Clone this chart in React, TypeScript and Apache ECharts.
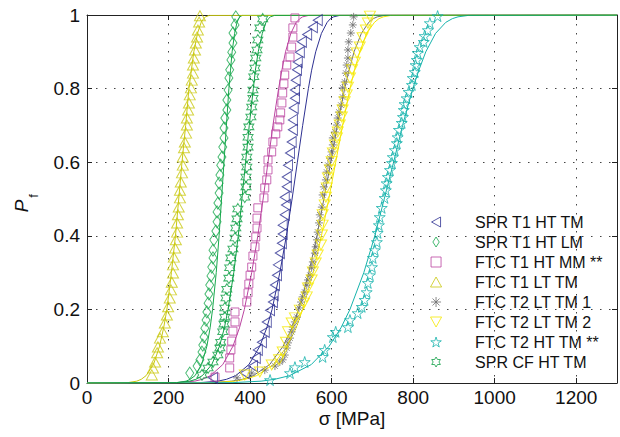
import React, { useEffect, useRef } from 'react';
import * as echarts from 'echarts';

const FONT = '"Liberation Sans", Arial, Helvetica, sans-serif';

const seriesNames = [
  'SPR T1 HT TM',
  'SPR T1 HT LM',
  'FTC T1 HT MM **',
  'FTC T1 LT TM',
  'FTC T2 LT TM 1',
  'FTC T2 LT TM 2',
  'FTC T2 HT TM **',
  'SPR CF HT TM',
];

const seriesColors = ['#2e3192', '#17a84c', '#bb44a0', '#c9c810', '#6e6e6e', '#f5e800', '#16b3ac', '#10a046'];

// measured points: [sigma (MPa), Pf]
const sprT1HtTm = [
  [309, 0.014], [387, 0.027], [407, 0.046], [414, 0.068], [419, 0.09], [429, 0.111], [436, 0.139], [441, 0.166],
  [449, 0.198], [456, 0.22], [458, 0.239], [461, 0.266], [466, 0.293], [468, 0.321], [473, 0.353], [478, 0.38],
  [480, 0.405], [480, 0.429], [485, 0.457], [488, 0.484], [485, 0.505], [490, 0.533], [490, 0.56], [493, 0.592],
  [498, 0.625], [502, 0.655], [505, 0.688], [505, 0.715], [507, 0.747], [510, 0.774], [510, 0.796], [512, 0.823],
  [515, 0.851], [517, 0.872], [522, 0.899], [527, 0.927], [540, 0.947], [554, 0.967], [566, 0.986],
];

const sprT1HtLm = [
  [252, 0.027], [270, 0.046], [277, 0.063], [282, 0.084], [284, 0.103], [287, 0.125], [289, 0.149], [292, 0.171],
  [294, 0.193], [297, 0.217], [299, 0.242], [301, 0.266], [304, 0.291], [306, 0.315], [309, 0.34], [309, 0.361],
  [311, 0.389], [316, 0.413], [319, 0.438], [319, 0.465], [321, 0.489], [324, 0.516], [324, 0.543], [326, 0.565],
  [328, 0.592], [331, 0.614], [333, 0.641], [336, 0.666], [336, 0.693], [338, 0.72], [343, 0.742], [343, 0.769],
  [346, 0.796], [348, 0.829], [350, 0.851], [353, 0.878], [355, 0.899], [358, 0.924], [358, 0.951], [363, 0.973],
  [365, 0.995],
];

const ftcT1HtMm = [
  [314, 0.016], [350, 0.041], [350, 0.068], [353, 0.09], [355, 0.114], [358, 0.141], [363, 0.166], [363, 0.193],
  [392, 0.22], [395, 0.245], [397, 0.269], [400, 0.293], [404, 0.315], [407, 0.345], [412, 0.37], [414, 0.397],
  [417, 0.421], [417, 0.448], [419, 0.476], [434, 0.503], [436, 0.53], [441, 0.552], [444, 0.579], [444, 0.606],
  [453, 0.628], [456, 0.655], [463, 0.677], [468, 0.696], [473, 0.715], [475, 0.734], [478, 0.761], [480, 0.788],
  [483, 0.813], [485, 0.837], [490, 0.864], [498, 0.886], [502, 0.913], [505, 0.94], [505, 0.965], [510, 0.992],
];

const ftcT1LtTm = [
  [159, 0.022], [162, 0.041], [167, 0.057], [172, 0.082], [174, 0.098], [179, 0.122], [186, 0.139], [191, 0.163],
  [196, 0.185], [199, 0.207], [203, 0.231], [206, 0.253], [208, 0.274], [211, 0.299], [211, 0.321], [213, 0.342],
  [216, 0.367], [218, 0.389], [221, 0.41], [221, 0.435], [223, 0.457], [225, 0.478], [228, 0.503], [228, 0.524],
  [230, 0.546], [233, 0.571], [235, 0.592], [235, 0.614], [238, 0.639], [240, 0.655], [243, 0.679], [245, 0.701],
  [245, 0.72], [248, 0.742], [250, 0.761], [252, 0.783], [255, 0.802], [257, 0.823], [260, 0.842], [260, 0.864],
  [262, 0.883], [265, 0.905], [267, 0.924], [270, 0.94], [272, 0.959], [275, 0.981], [277, 0.998],
];

const ftcT2LtTm1 = [
  [368, 0.014], [404, 0.027], [436, 0.035], [461, 0.046], [473, 0.057], [480, 0.063], [485, 0.076], [490, 0.095],
  [493, 0.109], [498, 0.122], [502, 0.139], [505, 0.152], [510, 0.166], [515, 0.179], [520, 0.204], [525, 0.22],
  [529, 0.234], [534, 0.247], [539, 0.266], [542, 0.28], [547, 0.293], [551, 0.313], [554, 0.329], [559, 0.353],
  [561, 0.37], [564, 0.389], [566, 0.41], [569, 0.435], [571, 0.457], [576, 0.478], [578, 0.511], [581, 0.533],
  [586, 0.552], [588, 0.573], [591, 0.592], [596, 0.611], [600, 0.628], [603, 0.647], [603, 0.666], [608, 0.682],
  [613, 0.701], [615, 0.72], [618, 0.736], [623, 0.755], [627, 0.777], [627, 0.802], [632, 0.818], [635, 0.842],
  [637, 0.864], [640, 0.883], [640, 0.905], [642, 0.927], [647, 0.951], [652, 0.973], [654, 0.995],
];

const ftcT2LtTm2 = [
  [387, 0.022], [424, 0.03], [453, 0.049], [471, 0.063], [480, 0.084], [488, 0.111], [493, 0.139], [502, 0.163],
  [510, 0.177], [522, 0.198], [532, 0.217], [539, 0.234], [542, 0.258], [551, 0.28], [554, 0.302], [561, 0.326],
  [566, 0.348], [574, 0.375], [576, 0.402], [578, 0.429], [578, 0.457], [583, 0.484], [586, 0.505], [588, 0.53],
  [591, 0.557], [596, 0.579], [600, 0.601], [603, 0.625], [608, 0.647], [613, 0.666], [615, 0.682], [620, 0.701],
  [625, 0.723], [627, 0.742], [632, 0.764], [637, 0.783], [640, 0.804], [645, 0.829], [650, 0.851], [657, 0.872],
  [662, 0.897], [669, 0.913], [676, 0.938], [684, 0.959], [689, 0.978], [694, 0.997],
];

const ftcT2HtTm = [
  [449, 0.008], [498, 0.027], [510, 0.043], [534, 0.057], [578, 0.071], [583, 0.09], [603, 0.125], [610, 0.139],
  [640, 0.152], [645, 0.171], [664, 0.19], [674, 0.207], [681, 0.226], [686, 0.247], [689, 0.272], [694, 0.293],
  [699, 0.315], [701, 0.34], [706, 0.361], [711, 0.383], [713, 0.408], [716, 0.429], [718, 0.451], [723, 0.476],
  [730, 0.503], [733, 0.524], [735, 0.543], [738, 0.56], [743, 0.579], [748, 0.598], [750, 0.614], [755, 0.633],
  [760, 0.652], [762, 0.668], [765, 0.688], [772, 0.707], [775, 0.723], [777, 0.742], [779, 0.758], [784, 0.774],
  [789, 0.791], [797, 0.81], [799, 0.829], [804, 0.845], [806, 0.864], [809, 0.878], [811, 0.897], [816, 0.913],
  [826, 0.927], [828, 0.943], [836, 0.959], [841, 0.978], [860, 0.997],
];

const sprCfHtTm = [
  [282, 0.022], [297, 0.041], [309, 0.057], [321, 0.076], [326, 0.095], [328, 0.111], [333, 0.139], [336, 0.16],
  [338, 0.179], [338, 0.204], [341, 0.231], [343, 0.255], [348, 0.285], [350, 0.313], [353, 0.34], [358, 0.364],
  [363, 0.394], [365, 0.421], [368, 0.446], [370, 0.473], [387, 0.505], [390, 0.533], [390, 0.56], [392, 0.587],
  [392, 0.614], [395, 0.641], [395, 0.668], [397, 0.696], [402, 0.723], [404, 0.75], [407, 0.774], [407, 0.796],
  [409, 0.832], [412, 0.856], [414, 0.883], [417, 0.905], [419, 0.932], [424, 0.965], [431, 0.989],
];

// fitted curves: sigma read at these Pf levels
const fitP = [0, 0.001, 0.005, 0.01, 0.02, 0.05, 0.1, 0.15, 0.2, 0.3, 0.4, 0.5, 0.6, 0.7, 0.8, 0.85, 0.9, 0.95, 0.98, 0.99, 0.995, 0.999, 1];
const fitSprT1HtTm = [0, 278, 321, 342, 365, 397, 424, 441, 454, 473, 489, 503, 516, 529, 543, 551, 561, 575, 589, 597, 605, 620, 1300];
const fitSprT1HtLm = [0, 219, 243, 253, 265, 281, 294, 302, 308, 317, 324, 330, 336, 342, 348, 352, 356, 362, 368, 372, 375, 381, 1300];
const fitFtcT1HtMm = [0, 225, 264, 283, 303, 333, 358, 374, 386, 404, 419, 432, 444, 456, 470, 478, 487, 500, 513, 522, 529, 544, 1300];
const fitFtcT1LtTm = [0, 100, 122, 133, 145, 163, 178, 188, 196, 207, 217, 225, 233, 242, 250, 256, 262, 271, 280, 286, 291, 300, 1300];
const fitFtcT2LtTm1 = [0, 302, 355, 381, 408, 448, 481, 503, 519, 544, 564, 581, 598, 614, 632, 643, 655, 673, 691, 702, 712, 731, 1300];
const fitFtcT2LtTm2 = [0, 308, 362, 388, 416, 457, 491, 513, 529, 555, 575, 593, 610, 627, 645, 656, 669, 686, 705, 716, 727, 746, 1300];
const fitFtcT2HtTm = [0, 358, 427, 460, 497, 550, 594, 623, 645, 679, 706, 729, 752, 774, 799, 814, 831, 855, 880, 896, 910, 936, 1300];
const fitSprCfHtTm = [0, 220, 252, 267, 283, 306, 325, 337, 346, 360, 371, 380, 389, 398, 408, 413, 420, 430, 439, 445, 450, 460, 1300];

const xTicks = [0, 200, 400, 600, 800, 1000, 1200];

const markerSets = [sprT1HtTm, sprT1HtLm, ftcT1HtMm, ftcT1LtTm, ftcT2LtTm1, ftcT2LtTm2, ftcT2HtTm, sprCfHtTm];
const fitSets = [fitSprT1HtTm, fitSprT1HtLm, fitFtcT1HtMm, fitFtcT1LtTm, fitFtcT2LtTm1, fitFtcT2LtTm2, fitFtcT2HtTm, fitSprCfHtTm];

const SYM_TRI_LEFT = 'path://M0,5L9,0L9,10Z';
const SYM_DIAMOND = 'path://M3.5,0L7,5.5L3.5,11L0,5.5Z';
const SYM_SQUARE = 'path://M0,0L7,0L7,7L0,7Z';
const SYM_TRI_UP = 'path://M5,0L10,9L0,9Z';
const SYM_TRI_DOWN = 'path://M0,0L10,0L5,9Z';
const SYM_ASTER = 'path://M5,0L5,10M0,5L10,5M1.5,1.5L8.5,8.5M8.5,1.5L1.5,8.5';
const SYM_STAR5 =
  'path://M5,0L6.12,3.45L9.76,3.45L6.82,5.59L7.94,9.05L5,6.91L2.06,9.05L3.18,5.59L0.24,3.45L3.88,3.45Z';
const SYM_HEX =
  'path://M5,0L6.443,2.5L9.33,2.5L7.887,5L9.33,7.5L6.443,7.5L5,10L3.557,7.5L0.67,7.5L2.113,5L0.67,2.5L3.557,2.5Z';

const symbols = [SYM_TRI_LEFT, SYM_DIAMOND, SYM_SQUARE, SYM_TRI_UP, SYM_ASTER, SYM_TRI_DOWN, SYM_STAR5, SYM_HEX];
const symbolSizes: any[] = [[9, 11], [8, 12], 8, [11, 10], 8, [11, 10], 11, [10, 11]];

export default function App() {
  const ref = useRef<HTMLDivElement>(null);
  useEffect(() => {
    document.body.style.margin = '0';
    if (!ref.current) return;
    const chart = echarts.init(ref.current, undefined, { renderer: 'svg' });

    const series: any[] = [];
    seriesNames.forEach((name, i) => {
      series.push({
        name: 'fit ' + name,
        type: 'line',
        data: fitSets[i].map((x, k) => [x, fitP[k]]),
        showSymbol: false,
        symbol: 'none',
        smooth: false,
        silent: true,
        lineStyle: { color: seriesColors[i], width: 1 },
        itemStyle: { color: seriesColors[i] },
        z: 2,
      });
      series.push({
        name,
        type: 'scatter',
        data: markerSets[i],
        symbol: symbols[i],
        symbolSize: symbolSizes[i],
        itemStyle: { color: 'none', borderColor: seriesColors[i], borderWidth: 1 },
        silent: true,
        z: 3,
      });
    });

    const axisCommon = {
      axisLine: { show: true, onZero: false, lineStyle: { color: '#222', width: 1 } },
      axisTick: { show: true, inside: true, length: 5, lineStyle: { color: '#222', width: 1 } },
    };

    chart.setOption({
      animation: false,
      backgroundColor: '#fff',
      grid: { left: 87, right: 3, top: 15, bottom: 54, containLabel: false },
      legend: {
        data: seriesNames.map((n, i) => ({ name: n, icon: symbols[i] })),
        orient: 'vertical',
        left: 428,
        top: 214,
        padding: 0,
        itemWidth: 68,
        itemHeight: 10,
        itemGap: 4,
        selectedMode: false,
        itemStyle: { borderWidth: 1 },
        textStyle: { fontSize: 16, color: '#111', fontFamily: FONT },
      },
      xAxis: [
        {
          type: 'value',
          min: 0,
          max: 1300,
          interval: 200,
          position: 'bottom',
          ...axisCommon,
          axisLabel: {
            fontSize: 19,
            color: '#111',
            fontFamily: FONT,
            margin: 5,
            formatter: (v: number) => (xTicks.indexOf(v) >= 0 ? String(v) : ''),
          },
          splitLine: {
            show: true,
            showMinLine: false,
            showMaxLine: false,
            lineStyle: { color: '#444', width: 1, type: [1.5, 7.5] },
          },
        },
        {
          type: 'value',
          min: 0,
          max: 1300,
          interval: 200,
          position: 'top',
          ...axisCommon,
          axisLabel: { show: false },
          splitLine: { show: false },
        },
      ],
      yAxis: [
        {
          type: 'value',
          min: 0,
          max: 1,
          interval: 0.2,
          position: 'left',
          ...axisCommon,
          axisLabel: { fontSize: 19, color: '#111', fontFamily: FONT, margin: 7 },
          splitLine: {
            show: true,
            showMinLine: false,
            showMaxLine: false,
            lineStyle: { color: '#444', width: 1, type: [1.5, 7.5] },
          },
        },
        {
          type: 'value',
          min: 0,
          max: 1,
          interval: 0.2,
          position: 'right',
          ...axisCommon,
          axisLabel: { show: false },
          splitLine: { show: false },
        },
      ],
      graphic: [
        {
          type: 'text',
          x: 352,
          y: 418,
          style: {
            text: 'σ [MPa]',
            font: '19px ' + FONT,
            fill: '#111',
            align: 'center',
            verticalAlign: 'middle',
          },
        },
        {
          type: 'text',
          x: 21,
          y: 206,
          rotation: Math.PI / 2,
          style: {
            text: 'P',
            font: 'italic 19px ' + FONT,
            fill: '#111',
            align: 'center',
            verticalAlign: 'middle',
          },
        },
        {
          type: 'text',
          x: 33,
          y: 196,
          rotation: Math.PI / 2,
          style: {
            text: 'f',
            font: '13px ' + FONT,
            fill: '#111',
            align: 'center',
            verticalAlign: 'middle',
          },
        },
      ],
      series,
    });
    return () => chart.dispose();
  }, []);
  return <div ref={ref} style={{ width: 620, height: 437 }} />;
}
